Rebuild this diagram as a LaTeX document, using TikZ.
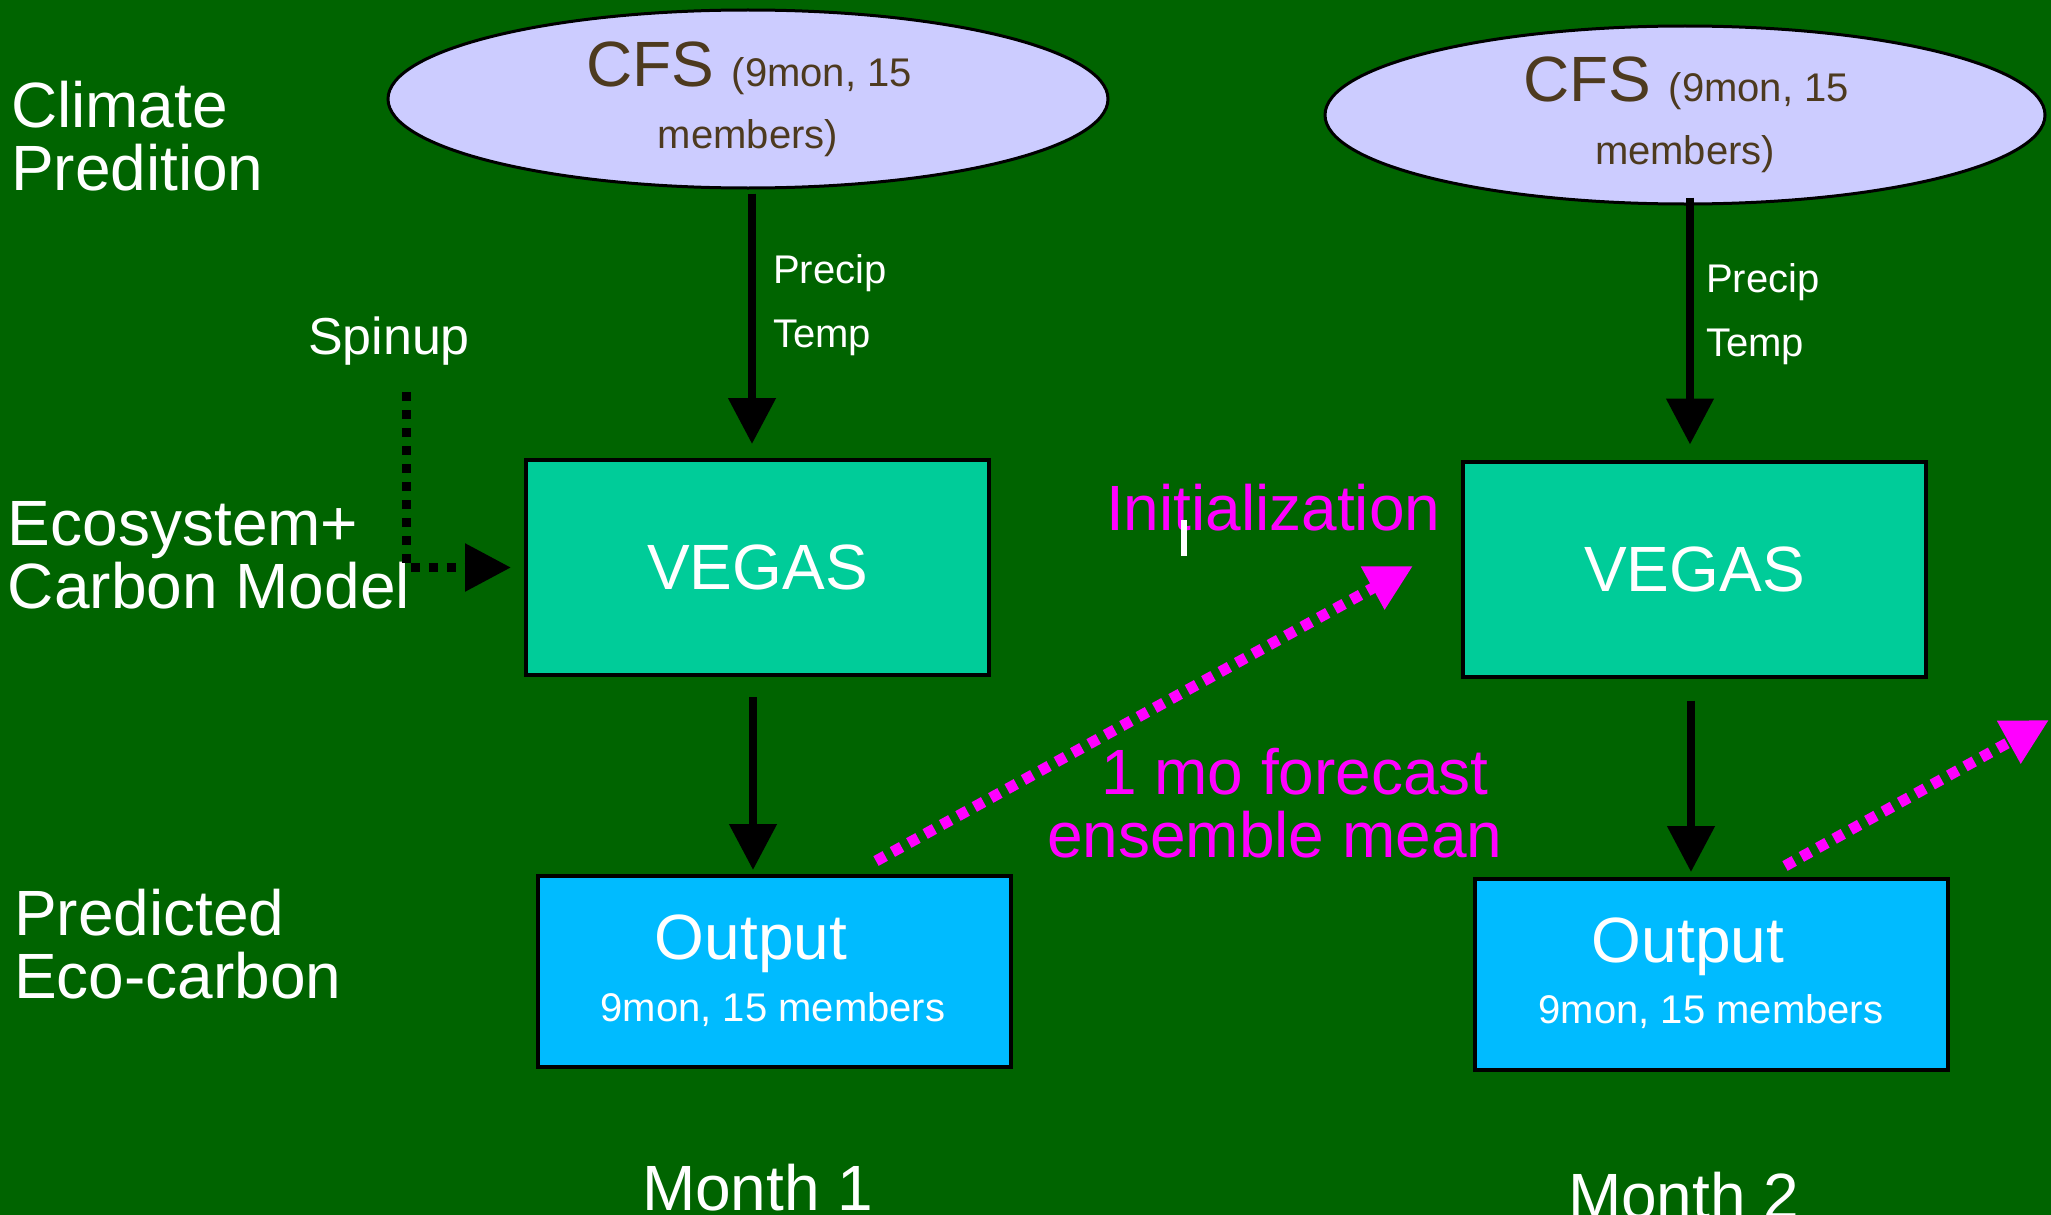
\documentclass[tikz,border=0pt]{standalone}
\usepackage{fontspec}
\setmainfont{Liberation Sans}
\usetikzlibrary{shapes.geometric,arrows.meta,calc}
\definecolor{bggreen}{RGB}{0,100,0}
\definecolor{cfsfill}{RGB}{204,204,255}
\definecolor{cfstext}{RGB}{77,58,31}
\definecolor{vegasfill}{RGB}{0,204,153}
\definecolor{outfill}{RGB}{0,187,255}
\definecolor{mag}{RGB}{255,0,255}
\newcommand\bigf{\fontsize{64}{64}\selectfont}
\newcommand\smallf{\fontsize{40}{40}\selectfont}
\newcommand\midf{\fontsize{52}{52}\selectfont}
\begin{document}
\begin{tikzpicture}[x=1pt,y=-1pt,
  txt/.style={inner sep=0pt, outer sep=0pt},
  lbl/.style={txt, text=white, font=\bigf, anchor=base west},
  small/.style={txt, text=white, font=\smallf},
  cfsbox/.style={ellipse, draw=black, line width=3pt, fill=cfsfill, minimum width=720pt, minimum height=178pt, inner sep=0pt},
  vegasbox/.style={rectangle, draw=black, line width=4pt, fill=vegasfill, minimum width=463pt, minimum height=215pt, text=white, font=\bigf, inner sep=0pt},
  outbox/.style={rectangle, draw=black, line width=4pt, fill=outfill, minimum width=473pt, minimum height=191pt, inner sep=0pt},
  blackarrow/.style={draw=black, line width=8pt, -{Triangle[length=46pt,width=46pt]}},
  spinarrow/.style={draw=black, line width=9pt, dash pattern=on 9pt off 9pt, -{Triangle[length=46pt,width=46pt]}},
  magarrow/.style={draw=mag, line width=11pt, dash pattern=on 10.5pt off 8.2pt, -{Triangle[length=46pt,width=46pt]}},
  magtxt/.style={txt, text=mag, font=\bigf, anchor=base west}
]
\useasboundingbox[fill=bggreen] (0,0) rectangle (2051,1215);

% left labels
\node[lbl] (clim1) at (11,127) {Climate};
\node[lbl] (clim2) at (11,190) {Predition};
\node[lbl] (eco1) at (8,545) {Ecosystem+};
\node[lbl] (eco2) at (8,608) {Carbon Model};
\node[lbl] (pred1) at (14,935) {Predicted};
\node[lbl] (pred2) at (14,998) {Eco-carbon};

% ellipses
\node[cfsbox] (cfs1) at (748,99) {};
\node[cfsbox] (cfs2) at (1685,115) {};
\node[txt, text=cfstext, anchor=base] (cfs1a) at (749,86) {\bigf CFS\ \smallf (9mon, 15};
\node[txt, text=cfstext, anchor=base, font=\smallf] (cfs1b) at (748,148) {members)};
\node[txt, text=cfstext, anchor=base] (cfs2a) at (1686,102) {\bigf CFS\ \smallf (9mon, 15};
\node[txt, text=cfstext, anchor=base, font=\smallf] (cfs2b) at (1685,164) {members)};

% Precip / Temp
\node[small, anchor=base west] (pr1) at (773,283) {Precip};
\node[small, anchor=base west] (te1) at (773,347) {Temp};
\node[small, anchor=base west] (pr2) at (1706,292) {Precip};
\node[small, anchor=base west] (te2) at (1706,356) {Temp};

% VEGAS boxes
\node[vegasbox] (vegas1) at (757.5,567.5) {VEGAS};
\node[vegasbox] (vegas2) at (1694.5,569) {VEGAS};

% Output boxes
\node[outbox] (out1) at (774.5,971.5) {};
\node[outbox] (out2) at (1711.5,974.5) {};
\node[txt, text=white, font=\bigf, anchor=base] (o1a) at (751,959) {Output};
\node[small, anchor=base] (o1b) at (773,1021) {9mon, 15 members};
\node[txt, text=white, font=\bigf, anchor=base] (o2a) at (1688,962) {Output};
\node[small, anchor=base] (o2b) at (1711,1023) {9mon, 15 members};

% Spinup
\node[txt, text=white, font=\midf, anchor=base west] (spin) at (308,354) {Spinup};

% magenta texts
\node[magtxt] (init) at (1106,530) {Initialization};
\node[magtxt] (fc1) at (1101,794) {1 mo forecast};
\node[magtxt] (fc2) at (1047,857) {ensemble mean};
\node[fill=white, inner sep=0pt, minimum width=6pt, minimum height=36pt] (cursor) at (1184,538) {};

% Months
\node[lbl] (m1) at (642,1210) {Month 1};
\node[lbl] (m2) at (1568,1218) {Month 2};

% black arrows
\coordinate (a1s) at ($(cfs1.south)+(4,4)$);
\coordinate (a1e) at (a1s |- vegas1.north);
\draw[blackarrow, shorten >=14pt] (a1s) -- (a1e);
\coordinate (a2s) at ($(cfs2.south)+(5,-8)$);
\coordinate (a2e) at (a2s |- vegas2.north);
\draw[blackarrow, shorten >=15pt] (a2s) -- (a2e);
\coordinate (a3s) at ($(vegas1.south)+(-4.5,20)$);
\coordinate (a3e) at (a3s |- out1.north);
\draw[blackarrow, shorten >=4pt] (a3s) -- (a3e);
\coordinate (a4s) at ($(vegas2.south)+(-3.5,22)$);
\coordinate (a4e) at (a4s |- out2.north);
\draw[blackarrow, shorten >=5pt] (a4s) -- (a4e);

% spinup dotted arrow
\coordinate (sps) at (406,392);
\draw[spinarrow, shorten >=13pt] (sps) |- (vegas1.west);

% magenta dotted arrows
\coordinate (m1s) at ($(out1.north)+(101.5,-13)$);
\coordinate (m1e) at ($(vegas2.west)+(-48,-3)$);
\draw[magarrow] (m1s) -- (m1e);
\coordinate (m2s) at ($(out2.north)+(73.5,-11)$);
\coordinate (m2e) at (2049,720);
\draw[magarrow] (m2s) -- (m2e);
\end{tikzpicture}
\end{document}
